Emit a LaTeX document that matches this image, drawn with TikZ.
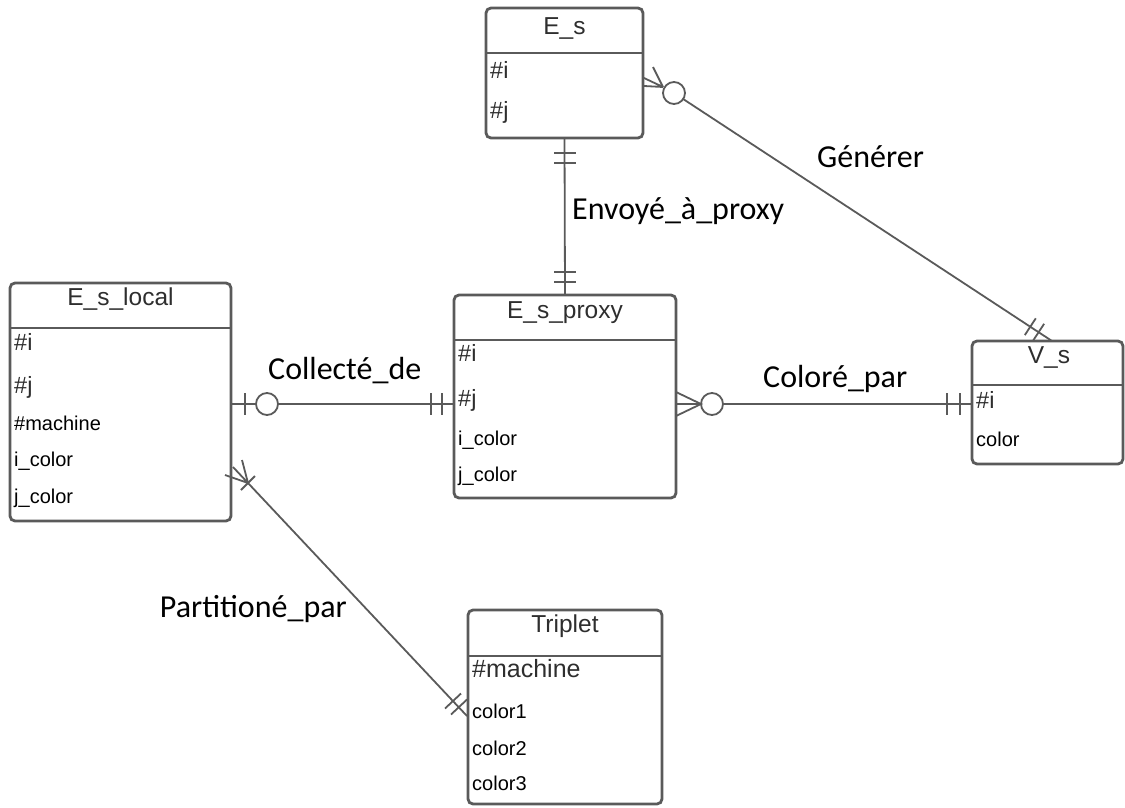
\documentclass[tikz,border=0pt]{standalone}
\usepackage{fontspec}
\usetikzlibrary{calc}
\setmainfont{Liberation Sans}
\newfontfamily\lblfont{Carlito}
\definecolor{lc}{HTML}{5A5A5A}
\definecolor{tc}{HTML}{2E2E2E}
\tikzset{
  ent/.style={draw=lc, line width=2.8pt, rounded corners=5pt, inner sep=0pt, outer sep=0pt},
  sep/.style={draw=lc, line width=2.8pt},
  conn/.style={draw=lc, line width=1.8pt},
  hdr/.style={font=\fontsize{24.5}{24.5}\selectfont, text=tc, inner sep=0pt, text height=0.72em, text depth=0pt},
  attbig/.style={font=\fontsize{23.5}{23.5}\selectfont, text=tc, anchor=west, inner sep=0pt, text height=0.72em, text depth=0pt},
  attsm/.style={font=\fontsize{20}{20}\selectfont, text=black, anchor=west, inner sep=0pt, text height=0.72em, text depth=0pt},
  lbl/.style={font=\lblfont\fontsize{32}{32}\selectfont, text=black, anchor=west, inner sep=0pt, text height=0.64em, text depth=0pt},
}
\begin{document}
\begin{tikzpicture}[x=1pt,y=-1pt]
\useasboundingbox (0,0) rectangle (1125,807);

% ---------- E_s ----------
\node[ent, minimum width=157pt, minimum height=130pt] (Es) at (564.5,73) {};
\draw[sep] (486,53) -- (643,53);
\node[hdr] (EsT) at (564.5,31) {E\_s};
\node[attbig] (Esi) at (490,75) {\#i};
\node[attbig] (Esj) at (490,115) {\#j};

% ---------- E_s_proxy ----------
\node[ent, minimum width=222pt, minimum height=203pt] (Esp) at (565,396.5) {};
\draw[sep] (454,340) -- (676,340);
\node[hdr] (EspT) at (565,315) {E\_s\_proxy};
\node[attbig] (Espi) at (458,358) {\#i};
\node[attbig] (Espj) at (458,403) {\#j};
\node[attsm] (Espic) at (458,442) {i\_color};
\node[attsm] (Espjc) at (458,478) {j\_color};

% ---------- E_s_local ----------
\node[ent, minimum width=221pt, minimum height=238pt] (Esl) at (120.5,402) {};
\draw[sep] (10,328) -- (231,328);
\node[hdr] (EslT) at (120.5,302) {E\_s\_local};
\node[attbig] (Esli) at (14,347) {\#i};
\node[attbig] (Eslj) at (14,390) {\#j};
\node[attsm] (Eslm) at (14,427) {\#machine};
\node[attsm] (Eslic) at (14,463) {i\_color};
\node[attsm] (Esljc) at (14,500) {j\_color};

% ---------- V_s ----------
\node[ent, minimum width=151pt, minimum height=123pt] (Vs) at (1047.5,402.5) {};
\draw[sep] (972,385) -- (1123,385);
\node[hdr] (VsT) at (1049,360) {V\_s};
\node[attbig] (Vsi) at (976,405) {\#i};
\node[attsm] (Vsc) at (976,443) {color};

% ---------- Triplet ----------
\node[ent, minimum width=194pt, minimum height=194pt] (Tr) at (565,707) {};
\draw[sep] (468,656) -- (662,656);
\node[hdr] (TrT) at (565,629) {Triplet};
\node[attbig, font=\fontsize{25}{25}\selectfont] (Trm) at (472,674) {\#machine};
\node[attsm] (Tr1) at (472,715) {color1};
\node[attsm] (Tr2) at (472,752) {color2};
\node[attsm] (Tr3) at (472,787) {color3};

% ---------- Envoyé_à_proxy ----------
\draw[conn] (Es.south) -- (Esp.north);
\draw[conn] (554,153) -- (576,153) (554,163) -- (576,163);
\draw[conn] (554,272) -- (576,272) (554,282) -- (576,282);
\node[lbl] (Lenv) at (572,216) {Envoyé\_à\_proxy};

% ---------- Collecté_de ----------
\coordinate (c1a) at (231,404);
\coordinate (c1b) at (454,404);
\coordinate (c1o) at (267,404);
\draw[conn] (c1a) -- (256,404);
\draw[conn] (c1o) circle (11);
\draw[conn] (278,404) -- (c1b);
\draw[conn] (245,393) -- (245,415);
\draw[conn] (431,393) -- (431,415) (442,393) -- (442,415);
\node[lbl] (Lcol) at (268,376) {Collecté\_de};

% ---------- Coloré_par ----------
\coordinate (c2a) at (676,404);
\coordinate (c2b) at (972,404);
\coordinate (c2o) at (712,404);
\draw[conn] (676,392) -- (701,404) -- (676,416);
\draw[conn] (c2a) -- (701,404);
\draw[conn] (c2o) circle (11);
\draw[conn] (723,404) -- (c2b);
\draw[conn] (947,393) -- (947,415) (960,393) -- (960,415);
\node[lbl] (Lclr) at (763,384) {Coloré\_par};

% ---------- Générer ----------
\coordinate (c3a) at (663,87);
\coordinate (c3o) at (674,93);
\coordinate (c3b) at (1052,341);
\draw[conn] (653,67) -- (c3a) (644,78) -- (c3a) (644,86) -- (c3a);
\draw[conn] (c3o) circle (11);
\draw[conn] ($(c3o)!11pt!(c3b)$) -- (c3b);
\draw[conn] (1044.1,323.8) -- (1033.1,340.6) (1035.8,318.3) -- (1024.8,335.1);
\node[lbl] (Lgen) at (817,164) {Générer};

% ---------- Partitioné_par ----------
\coordinate (c4a) at (248,483);
\coordinate (c4b) at (467,716);
\draw[conn] (c4a) -- (c4b);
\draw[conn] (242,460) -- (c4a) (233,467) -- (c4a) (225,475) -- (c4a);
\draw[conn] (241,490) -- (255,476);
\draw[conn] (451,714.5) -- (467,699.5) (445,708.5) -- (461,693.5);
\node[lbl, anchor=east] (Lpar) at (347,614) {Partitioné\_par};
\end{tikzpicture}
\end{document}
